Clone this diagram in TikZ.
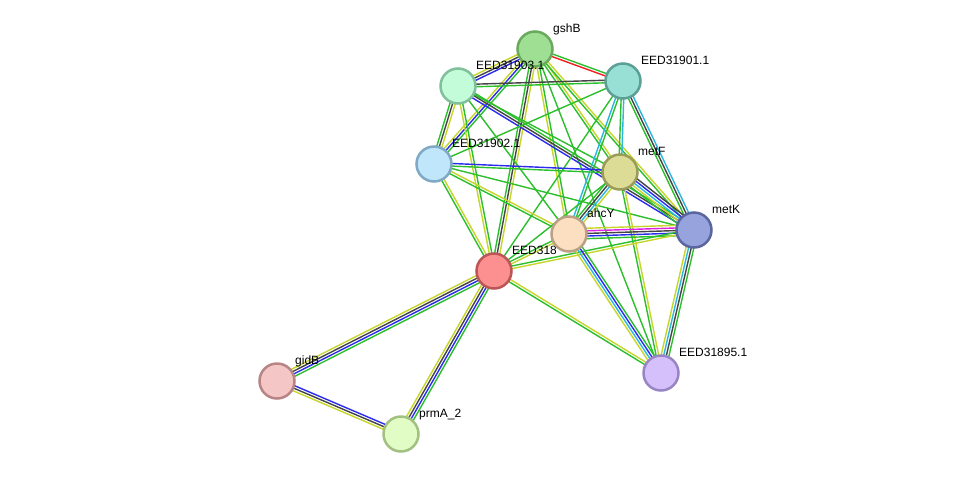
\documentclass[tikz,border=0pt]{standalone}
\usepackage{fontspec}
\newfontfamily\labfont{Liberation Sans}
\usetikzlibrary{calc,backgrounds}
\definecolor{cG}{HTML}{2CBF2C}
\definecolor{cY}{HTML}{C6D62A}
\definecolor{cK}{HTML}{444444}
\definecolor{cB}{HTML}{2B2BF0}
\definecolor{cC}{HTML}{2AB8E0}
\definecolor{cM}{HTML}{E020E0}
\definecolor{cR}{HTML}{F02020}
\definecolor{fgshB}{HTML}{9FDF93}\definecolor{sgshB}{HTML}{6AAA5D}
\definecolor{fa}{HTML}{C3FCD9}\definecolor{sa}{HTML}{80C09A}
\definecolor{fb}{HTML}{98E0D5}\definecolor{sb}{HTML}{5B9F95}
\definecolor{fc}{HTML}{C0E6FC}\definecolor{sc}{HTML}{7FA9C4}
\definecolor{fd}{HTML}{DCDC96}\definecolor{sd}{HTML}{9C9C5A}
\definecolor{fe}{HTML}{FC9090}\definecolor{se}{HTML}{BC5555}
\definecolor{ff}{HTML}{FCDEC0}\definecolor{sf}{HTML}{BAA084}
\definecolor{fg}{HTML}{97A3DD}\definecolor{sg}{HTML}{5A66A0}
\definecolor{fh}{HTML}{D5C0FC}\definecolor{sh}{HTML}{9886C4}
\definecolor{fi}{HTML}{F5C6C6}\definecolor{si}{HTML}{B78585}
\definecolor{fj}{HTML}{E1FCC4}\definecolor{sj}{HTML}{A3C083}
\tikzset{
  prot/.style 2 args={circle, inner sep=0pt, minimum size=35pt, line width=2.5pt, fill=#1, draw=#2},
  lab/.style={font=\labfont\fontsize{12}{14}\selectfont, anchor=base west, inner sep=0pt, text=black},
  lnk/.style={line width=1.4pt}
}
\newcommand\bund[3]{%
  \foreach \cc [count=\ii] in {#3}{\xdef\bundn{\ii}}%
  \foreach \cc [count=\ii] in {#3}{%
    \pgfmathsetmacro\off{(\ii-(\bundn+1)/2)*2.6}%
    \draw[lnk,draw=\cc] ($(#1.center)!\off pt!90:(#2.center)$) -- ($(#2.center)!\off pt!-90:(#1.center)$);
  }}
\begin{document}
\begin{tikzpicture}[x=1pt,y=-1pt]
\useasboundingbox (0,0) rectangle (975,480);
% nodes with labels
\node[prot={fgshB}{sgshB}] (gshB) at (535,49) {};
\node[lab] (lgshB) at (553,32) {gshB};
\node[prot={fa}{sa}] (e903) at (458,86) {};
\node[lab] (l903) at (476,69) {EED31903.1};
\node[prot={fb}{sb}] (e901) at (623,81) {};
\node[lab] (l901) at (641,64) {EED31901.1};
\node[prot={fc}{sc}] (e902) at (434,164) {};
\node[lab] (l902) at (452,147) {EED31902.1};
\node[prot={fd}{sd}] (metF) at (620,172) {};
\node[lab] (lmetF) at (638,155) {metF};
\node[prot={fe}{se}] (red) at (494,271) {};
\begin{scope}
\clip (505,238) rectangle (555,262);
\node[lab] (lred) at (512,254) {EED31896.1};
\end{scope}
\node[prot={ff}{sf}] (ahcY) at (569,234) {};
\node[lab] (lahcY) at (587,217) {ahcY};
\node[prot={fg}{sg}] (metK) at (694,230) {};
\node[lab] (lmetK) at (712,213) {metK};
\node[prot={fh}{sh}] (e895) at (661,373) {};
\node[lab] (l895) at (679,356) {EED31895.1};
\node[prot={fi}{si}] (gidB) at (277,381) {};
\node[lab] (lgidB) at (295,364) {gidB};
\node[prot={fj}{sj}] (prmA) at (401,434) {};
\node[lab] (lprmA) at (419,417) {prmA\_2};
% edges
\begin{scope}[on background layer]
\fill[white] (0,0) rectangle (975,480);
\bund{gshB}{e901}{cR,cG}
\bund{gshB}{e903}{cY,cK,cB}
\bund{gshB}{e902}{cY,cB,cG}
\bund{gshB}{red}{cG,cK,cY}
\bund{gshB}{ahcY}{cY,cG}
\bund{gshB}{metF}{cG,cY}
\bund{gshB}{metK}{cG,cY}
\bund{gshB}{e895}{cG}
\bund{e903}{e901}{cG,cK}
\bund{e903}{e902}{cG,cK,cY}
\bund{e903}{red}{cY,cG}
\bund{e903}{metK}{cB,cK,cG}
\bund{e903}{metF}{cG}
\bund{e903}{ahcY}{cG}
\bund{e901}{e902}{cG}
\bund{e901}{metF}{cG,cC}
\bund{e901}{metK}{cG,cK,cC}
\bund{e901}{ahcY}{cC,cG}
\bund{e901}{red}{cG}
\bund{e902}{metF}{cG,cB}
\bund{e902}{metK}{cG}
\bund{e902}{ahcY}{cG,cY}
\bund{e902}{red}{cG,cY}
\bund{metF}{metK}{cG,cY,cC,cB,cK}
\bund{metF}{ahcY}{cG,cK,cC,cY}
\bund{metF}{red}{cG}
\bund{metF}{e895}{cG,cY}
\bund{metK}{ahcY}{cY,cM,cK,cB,cG}
\bund{metK}{red}{cG,cY}
\bund{metK}{e895}{cY,cC,cK,cG}
\bund{ahcY}{red}{cG,cY}
\bund{ahcY}{e895}{cY,cC,cB,cG}
\bund{red}{e895}{cG,cY}
\bund{red}{gidB}{cY,cK,cB,cG}
\bund{red}{prmA}{cY,cK,cB,cG}
\bund{gidB}{prmA}{cY,cK,cB}
\end{scope}
\end{tikzpicture}
\end{document}
